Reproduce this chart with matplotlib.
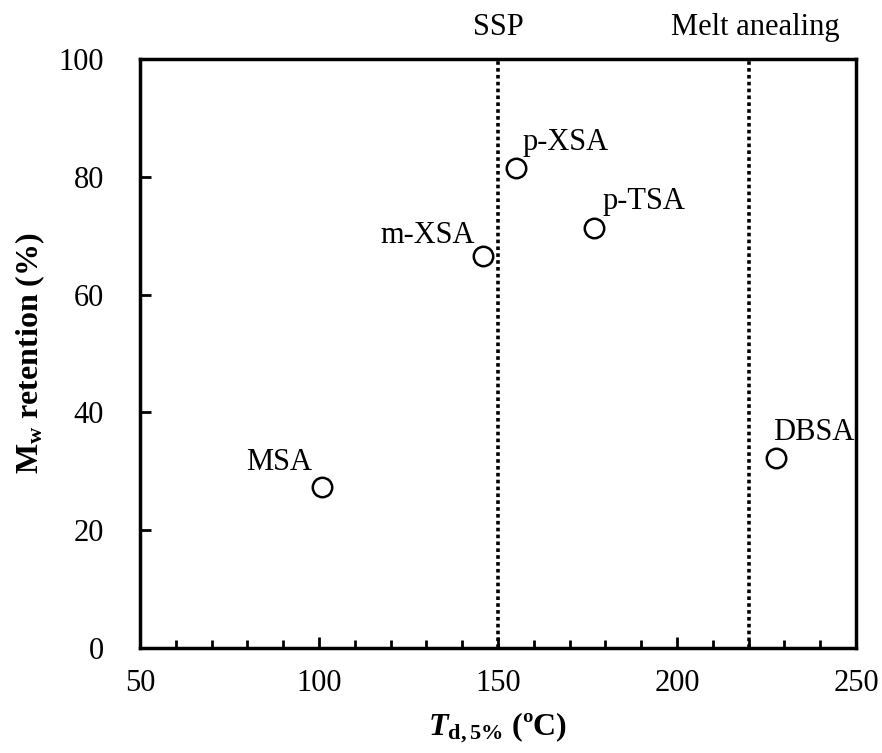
import matplotlib.pyplot as plt
import matplotlib.transforms as mtransforms
from matplotlib.ticker import MultipleLocator

plt.rcParams['font.family'] = ['Liberation Serif', 'DejaVu Serif']
plt.rcParams['mathtext.fontset'] = 'custom'
plt.rcParams['mathtext.rm'] = 'Liberation Serif'
plt.rcParams['mathtext.it'] = 'Liberation Serif:italic'
plt.rcParams['mathtext.bf'] = 'Liberation Serif:bold'
plt.rcParams['mathtext.bfit'] = 'Liberation Serif:italic:bold'

# data
acids = ["MSA", "m-XSA", "p-XSA", "p-TSA", "DBSA"]
td5 = [100.8, 145.8, 155.0, 176.8, 227.7]
mw_retention = [27.4, 66.6, 81.5, 71.3, 32.3]
# label placement: (dx, dy) in points, horizontal alignment
label_offsets = [(-7, 12), (-6, 9), (5, 13), (6.5, 14), (-2, 13)]
label_ha = ["right", "right", "left", "left", "left"]

region_x = [150, 220]
region_names = ["SSP", "Melt anealing"]
region_text_x = [150, 222]

fig = plt.figure(figsize=(8.82, 7.53), dpi=100)
ax = fig.add_axes([0.1587, 0.1394, 0.8118, 0.7822])

ax.plot(td5, mw_retention, 'o', ms=14, mfc='white', mec='black', mew=1.8, ls='none', zorder=3)
for name, x, y, off, ha in zip(acids, td5, mw_retention, label_offsets, label_ha):
    ax.annotate(name, (x, y), xytext=off, textcoords='offset points', fontsize=22,
                ha=ha, va='baseline')

for xv in region_x:
    ax.axvline(xv, color='black', ls=(0, (1, 0.9)), lw=2.6, zorder=1)

trans = mtransforms.blended_transform_factory(ax.transData, ax.transAxes)
for name, xv in zip(region_names, region_text_x):
    ax.text(xv, 1.054, name, transform=trans, ha='center', va='center', fontsize=22)

ax.set_xlim(50, 250)
ax.set_ylim(0, 100)
ax.xaxis.set_major_locator(MultipleLocator(50))
ax.xaxis.set_minor_locator(MultipleLocator(10))
ax.yaxis.set_major_locator(MultipleLocator(20))
ax.tick_params(axis='x', which='major', direction='in', length=8, width=2, pad=15, labelsize=22, top=False)
ax.tick_params(axis='x', which='minor', direction='in', length=6, width=2, top=False)
ax.tick_params(axis='y', which='major', direction='in', length=8, width=2, pad=26, labelsize=22, right=False)
for sp in ax.spines.values():
    sp.set_linewidth(2.5)

ax.set_xlabel(r'$\mathbfit{T}_{\mathbf{d,5\%}}$ (ºC)', fontsize=23, fontweight='bold', labelpad=9)
ax.set_ylabel(r'M$_{\mathbf{w}}$ retention (%)', fontsize=23, fontweight='bold', labelpad=8)

fig.savefig('out.png', dpi=100)
